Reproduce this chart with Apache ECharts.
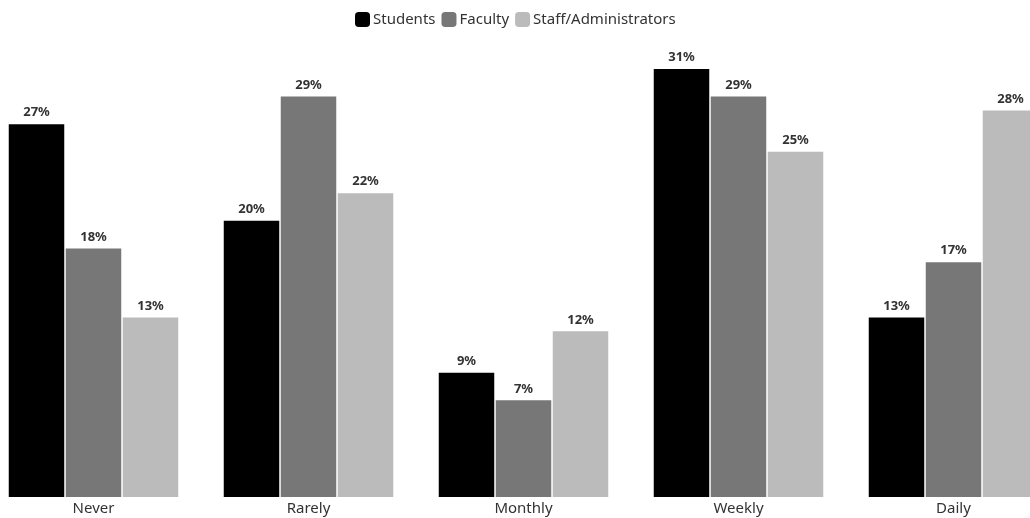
<!DOCTYPE html>
<html>
<head>
<meta charset="utf-8">
<script src="https://cdn.jsdelivr.net/npm/echarts@6/dist/echarts.min.js"></script>
<style>
  html, body { margin: 0; padding: 0; background: #fff; overflow: hidden; }
  body { width: 1030px; height: 518px; position: relative; }
  /* the plot runs past the right edge, so the canvas is wider than the page */
  #chart { position: absolute; left: -14px; top: 0; width: 1075px; height: 518px; }
</style>
</head>
<body>
<div id="chart"></div>
<script>
// How often each group reports the activity (percent of respondents)
const categories = ['Never', 'Rarely', 'Monthly', 'Weekly', 'Daily'];
const students = [27, 20, 9, 31, 13];
const faculty = [18, 29, 7, 29, 17];
const staffAdministrators = [13, 22, 12, 25, 28];
const seriesNames = ['Students', 'Faculty', 'Staff/Administrators'];
const seriesColors = ['#000000', '#777777', '#bbbbbb'];

const FONT = '"Noto Sans", "Open Sans", sans-serif';
const chart = echarts.init(document.getElementById('chart'));

const values = [students, faculty, staffAdministrators];
const series = values.map((data, i) => ({
  name: seriesNames[i],
  type: 'bar',
  data: data,
  barWidth: 55.5,
  barGap: '2.7%',
  itemStyle: { color: seriesColors[i] },
  label: {
    show: true,
    position: 'top',
    distance: 5,
    formatter: '{c}%',
    color: '#333',
    fontFamily: FONT,
    fontWeight: 'bold',
    fontSize: 13
  }
}));

chart.setOption({
  animation: false,
  backgroundColor: '#fff',
  legend: {
    top: 7,
    left: 364,
    icon: 'roundRect',
    itemWidth: 15,
    itemHeight: 15,
    itemGap: 6,
    textStyle: { color: '#333', fontFamily: FONT, fontSize: 15, padding: [0, 0, 0, -2] },
    data: seriesNames
  },
  grid: { left: 0, right: 0, top: 69, bottom: 21 },
  xAxis: {
    type: 'category',
    data: categories,
    axisLine: { show: false },
    axisTick: { show: false },
    axisLabel: { color: '#333', fontFamily: FONT, fontSize: 15, margin: 4 }
  },
  yAxis: {
    type: 'value',
    min: 0,
    max: 31,
    show: false,
    splitLine: { show: false }
  },
  series: series
});
</script>
</body>
</html>
